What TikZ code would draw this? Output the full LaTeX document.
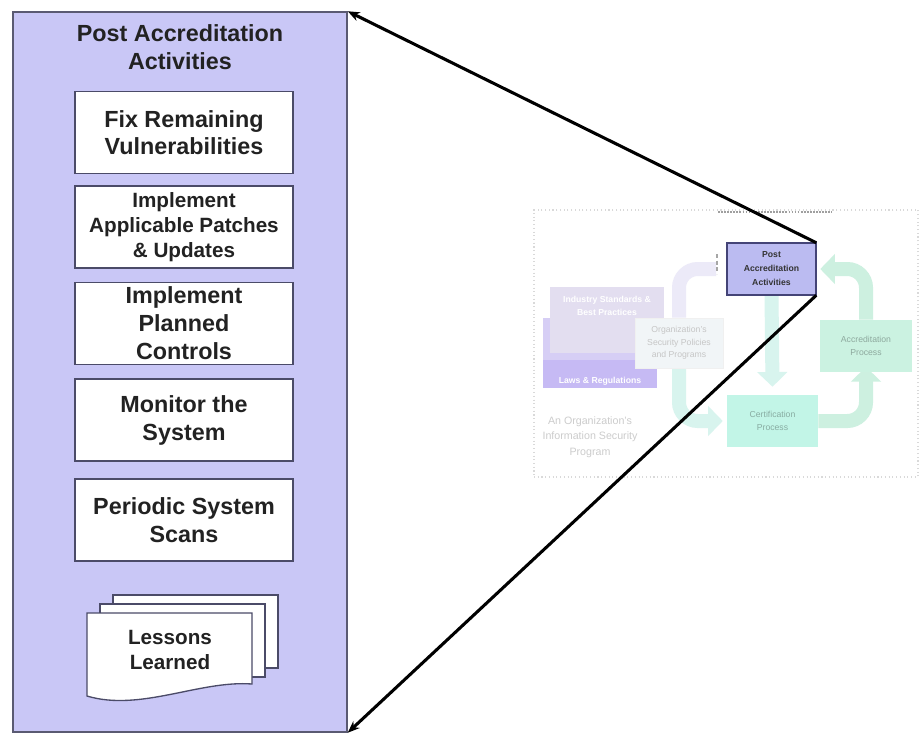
\documentclass[tikz,border=0pt]{standalone}
\usepackage{fontspec}
\setmainfont{Liberation Sans}
\usetikzlibrary{arrows.meta}
\definecolor{panelfill}{HTML}{C9C7F6}
\definecolor{panelline}{HTML}{5A5A72}
\definecolor{boxline}{HTML}{4B4B68}
\definecolor{txt}{HTML}{222222}
\definecolor{paafill}{HTML}{BBBBF1}
\definecolor{paaline}{HTML}{444477}
\definecolor{lavback}{HTML}{D6CEF5}
\definecolor{lavband}{HTML}{C6BAF4}
\definecolor{lavfront}{HTML}{E3DEF0}
\definecolor{orgfill}{HTML}{F1F5F7}
\definecolor{accfill}{HTML}{CBF2E1}
\definecolor{certfill}{HTML}{C2F5E7}
\definecolor{arrcyan}{HTML}{D8F4EE}
\definecolor{arrgreen}{HTML}{CDF0E0}
\definecolor{arrlav}{HTML}{ECEAF8}
\tikzset{
  panelbox/.style={draw=panelline, line width=1.1pt, fill=panelfill, minimum width=250.5pt, minimum height=540pt, inner sep=0pt},
  actbox/.style={draw=boxline, line width=1.1pt, fill=white, minimum width=163.5pt, minimum height=61.5pt, align=center, text=txt, inner sep=0pt},
  bigfont/.style={font=\bfseries\fontsize{17.5}{20.5}\selectfont},
  midfont/.style={font=\bfseries\fontsize{15.5}{18.5}\selectfont},
  docpage/.style={draw=boxline, line width=1pt, fill=white},
  faint/.style={font=\fontsize{6.5}{9.5}\selectfont, align=center},
  blockarrow/.style={line width=10.5pt, rounded corners=14pt},
  connector/.style={line width=2.3pt, black, -{Stealth[length=9pt,width=7pt]}}
}
\begin{document}
\begin{tikzpicture}[x=0.75pt,y=-0.75pt]
\useasboundingbox (0,0) rectangle (920,736);
\fill[white] (0,0) rectangle (920,736);

% ---------- left panel ----------
\node[panelbox] (panel) at (180,372) {};
\node[bigfont, text=txt, align=center] (title) at (180,47) {Post Accreditation\\Activities};
\node[actbox, bigfont] (fix) at (184,132.5) {Fix Remaining\\Vulnerabilities};
\node[actbox, midfont] (patch) at (184,227) {Implement\\Applicable Patches\\\& Updates};
\node[actbox, font=\bfseries\fontsize{17.5}{21}\selectfont] (plan) at (184,323.5) {Implement\\Planned\\Controls};
\node[actbox, font=\bfseries\fontsize{17.5}{21}\selectfont] (mon) at (184,420) {Monitor the\\System};
\node[actbox, font=\bfseries\fontsize{17.5}{21}\selectfont] (scan) at (184,520) {Periodic System\\Scans};

% lessons learned document stack
\draw[docpage] (113,595) rectangle (278,668);
\draw[docpage] (100,604) rectangle (265,677);
\draw[docpage] (87,613) -- (252,613) -- (252,684) .. controls (200,680) and (140,712) .. (87,696) -- cycle;
\node[midfont, text=txt, align=center] (lessons) at (170,650) {Lessons\\Learned};

% ---------- faded overview diagram ----------
\node[draw=gray!30, dotted, line width=0.8pt, minimum width=288pt, minimum height=200.25pt, inner sep=0pt] (frame) at (726,343.5) {};
\draw[densely dotted, gray!75, line width=1.3pt] (718,212) -- (832,212);

\node[minimum width=66.75pt, minimum height=39pt, inner sep=0pt] (paa) at (771.5,269) {};
\node[minimum width=66pt, minimum height=37.5pt, inner sep=0pt] (org) at (679,343) {};
\node[minimum width=69pt, minimum height=39pt, inner sep=0pt] (acc) at (866,346) {};
\node[minimum width=68.25pt, minimum height=39pt, inner sep=0pt] (cert) at (772.5,421) {};

% block arrows
\draw[blockarrow, arrlav] (org.north) |- ([xshift=-8pt]paa.west);
\draw[blockarrow, arrcyan, -{Triangle[length=11pt,width=22pt]}] (paa.south) -- ([yshift=6pt]cert.north);
\draw[blockarrow, arrcyan, -{Triangle[length=11pt,width=22pt]}] (org.south) |- ([xshift=-3pt]cert.west);
\draw[blockarrow, arrgreen, -{Triangle[length=11pt,width=22pt]}] (acc.north) |- ([xshift=3pt]paa.east);
\draw[blockarrow, arrgreen, -{Triangle[length=11pt,width=22pt]}] (cert.east) -| ([yshift=4pt]acc.south);
\draw[densely dashed, gray!70, line width=1pt] (717,254) -- (717,274);

% lavender boxes
\node[fill=lavback, minimum width=85.5pt, minimum height=52.5pt, inner sep=0pt] (laws) at (600,353) {};
\fill[lavband] (laws.south west) rectangle ([yshift=21pt]laws.south east);
\node[white, font=\bfseries\fontsize{6.5}{8}\selectfont] (lawstxt) at (600,381) {Laws \& Regulations};
\node[fill=lavfront, minimum width=85.5pt, minimum height=49.5pt, inner sep=0pt, text=white, font=\bfseries\fontsize{6.5}{9.5}\selectfont, align=center, anchor=north] (std) at (607,287) {Industry Standards \&\\Best Practices\\[12pt]};

% other boxes
\node[fill=orgfill, draw=gray!12, minimum width=66pt, minimum height=37.5pt, inner sep=0pt, faint, text=gray!45] at (org) {Organization's\\Security Policies\\and Programs};
\node[fill=accfill, minimum width=69pt, minimum height=39pt, inner sep=0pt, faint, text=black!30!accfill] at (acc) {Accreditation\\Process};
\node[fill=certfill, minimum width=68.25pt, minimum height=39pt, inner sep=0pt, faint, text=black!30!certfill] at (cert) {Certification\\Process};
\node[fill=paafill, draw=paaline, line width=0.8pt, minimum width=66.75pt, minimum height=39pt, inner sep=0pt, text=black!80, font=\bfseries\fontsize{6.5}{10.5}\selectfont, align=center] at (paa) {Post\\Accreditation\\Activities};
\node[text=gray!40, font=\fontsize{8}{11.5}\selectfont, align=center] (prog) at (590,437) {An Organization's\\Information Security\\Program};

% connectors to the panel
\draw[connector] (paa.north east) -- (panel.north east);
\draw[connector] (paa.south east) -- (panel.south east);
\end{tikzpicture}
\end{document}
